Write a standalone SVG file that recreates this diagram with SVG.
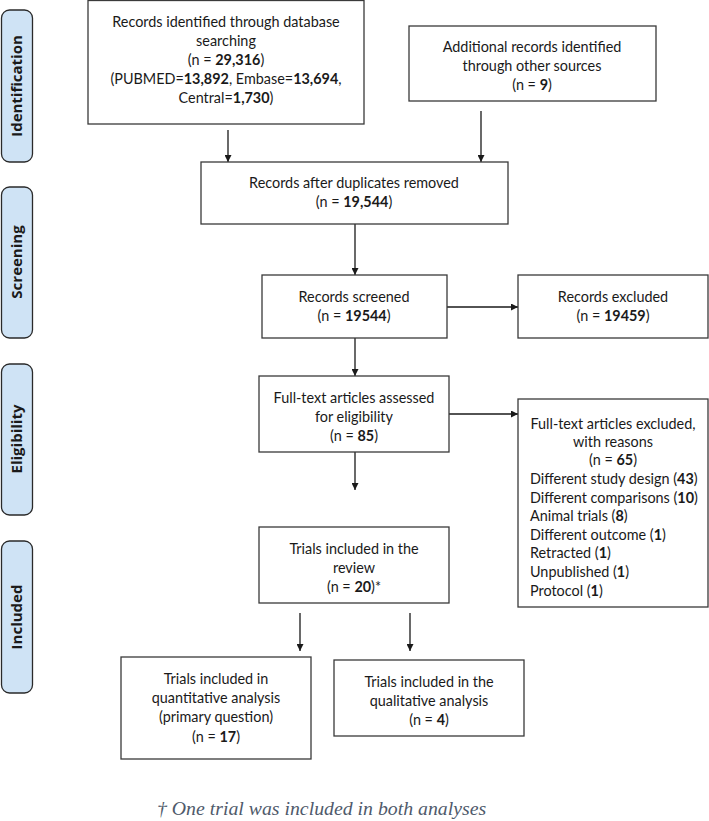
<svg xmlns="http://www.w3.org/2000/svg" width="709" height="821" viewBox="0 0 709 821">
<style>
.box{fill:#fff;stroke:#3a3a3a;stroke-width:1.3}
.side{fill:#cfe3f5;stroke:#2a2a2a;stroke-width:1.3}
.t{font-family:Lato,"Liberation Sans",sans-serif;font-size:14.4px;fill:#1a1a1a}
.c{text-anchor:middle}
.s{font-family:"Open Sans","Liberation Sans",sans-serif;font-size:15px;font-weight:bold;fill:#1a1a1a;text-anchor:middle}
.b{font-weight:bold}
.e{stroke:#1a1a1a;stroke-width:1.3;fill:none;marker-end:url(#ah)}
.fn{font-family:"Liberation Serif",serif;font-style:italic;font-size:19.8px;fill:#4f5a6b}
</style>
<defs>
<marker id="ah" viewBox="0 0 10 10" refX="10" refY="5" markerWidth="7" markerHeight="7" markerUnits="userSpaceOnUse" orient="auto">
<path d="M0,0 L10,5 L0,10 z" fill="#1a1a1a"/>
</marker>
</defs>
<g id="side-identification"><rect class="side" x="1.5" y="10" width="31" height="152" rx="8"/><text class="s" transform="translate(22,86) rotate(-90)">Identification</text></g>
<g id="side-screening"><rect class="side" x="1.5" y="187" width="31" height="151" rx="8"/><text class="s" transform="translate(22,262) rotate(-90)">Screening</text></g>
<g id="side-eligibility"><rect class="side" x="1.5" y="364" width="31" height="151" rx="8"/><text class="s" transform="translate(22,439) rotate(-90)">Eligibility</text></g>
<g id="side-included"><rect class="side" x="1.5" y="541" width="31" height="152" rx="8"/><text class="s" transform="translate(22,617) rotate(-90)">Included</text></g>
<g id="connectors">
<line class="e" x1="228" y1="130" x2="228" y2="162"/>
<line class="e" x1="481" y1="111" x2="481" y2="162"/>
<line class="e" x1="355" y1="224" x2="355" y2="275"/>
<line class="e" x1="447" y1="307" x2="518" y2="307"/>
<line class="e" x1="355" y1="338" x2="355" y2="376"/>
<line class="e" x1="449" y1="414" x2="518" y2="414"/>
<line class="e" x1="355" y1="452" x2="355" y2="490"/>
<line class="e" x1="300" y1="613" x2="300" y2="651"/>
<line class="e" x1="410" y1="613" x2="410" y2="651"/>
</g>
<g id="n-db"><rect class="box" x="88" y="0.5" width="276" height="123.5"/>
<text class="t c" x="226" y="27">Records identified through database</text>
<text class="t c" x="226" y="46">searching</text>
<text class="t c" x="226" y="65">(n = <tspan class="b">29,316</tspan>)</text>
<text class="t c" x="226" y="84">(PUBMED=<tspan class="b">13,892</tspan>, Embase=<tspan class="b">13,694</tspan>,</text>
<text class="t c" x="226" y="103">Central=<tspan class="b">1,730</tspan>)</text></g>
<g id="n-other"><rect class="box" x="409" y="26" width="247" height="75"/>
<text class="t c" x="532" y="52">Additional records identified</text>
<text class="t c" x="532" y="71">through other sources</text>
<text class="t c" x="532" y="90">(n = <tspan class="b">9</tspan>)</text></g>
<g id="n-dups"><rect class="box" x="201" y="162" width="307" height="62"/>
<text class="t c" x="354" y="188">Records after duplicates removed</text>
<text class="t c" x="354" y="207">(n = <tspan class="b">19,544</tspan>)</text></g>
<g id="n-screened"><rect class="box" x="262" y="275" width="185" height="63"/>
<text class="t c" x="354" y="302">Records screened</text>
<text class="t c" x="354" y="321">(n = <tspan class="b">19544</tspan>)</text></g>
<g id="n-excluded"><rect class="box" x="518" y="275" width="190" height="63"/>
<text class="t c" x="613" y="302">Records excluded</text>
<text class="t c" x="613" y="321">(n = <tspan class="b">19459</tspan>)</text></g>
<g id="n-fulltext"><rect class="box" x="259" y="376" width="190" height="76"/>
<text class="t c" x="354" y="403">Full-text articles assessed</text>
<text class="t c" x="354" y="422">for eligibility</text>
<text class="t c" x="354" y="441">(n = <tspan class="b">85</tspan>)</text></g>
<g id="n-ftexcl"><rect class="box" x="518" y="399" width="190" height="208"/>
<text class="t c" x="613" y="429">Full-text articles excluded,</text>
<text class="t c" x="613" y="447">with reasons</text>
<text class="t c" x="613" y="465">(n = <tspan class="b">65</tspan>)</text>
<text class="t" x="530" y="484">Different study design (<tspan class="b">43</tspan>)</text>
<text class="t" x="530" y="503">Different comparisons (<tspan class="b">10</tspan>)</text>
<text class="t" x="530" y="521">Animal trials (<tspan class="b">8</tspan>)</text>
<text class="t" x="530" y="540">Different outcome (<tspan class="b">1</tspan>)</text>
<text class="t" x="530" y="558">Retracted (<tspan class="b">1</tspan>)</text>
<text class="t" x="530" y="577">Unpublished (<tspan class="b">1</tspan>)</text>
<text class="t" x="530" y="596">Protocol (<tspan class="b">1</tspan>)</text></g>
<g id="n-review"><rect class="box" x="259" y="527" width="190" height="76"/>
<text class="t c" x="354" y="554">Trials included in the</text>
<text class="t c" x="354" y="573">review</text>
<text class="t c" x="354" y="592">(n = <tspan class="b">20</tspan>)*</text></g>
<g id="n-quant"><rect class="box" x="121" y="657" width="190" height="102"/>
<text class="t c" x="216" y="684">Trials included in</text>
<text class="t c" x="216" y="703">quantitative analysis</text>
<text class="t c" x="216" y="722">(primary question)</text>
<text class="t c" x="216" y="742">(n = <tspan class="b">17</tspan>)</text></g>
<g id="n-qual"><rect class="box" x="334" y="660" width="190" height="76"/>
<text class="t c" x="429" y="687">Trials included in the</text>
<text class="t c" x="429" y="706">qualitative analysis</text>
<text class="t c" x="429" y="725">(n = <tspan class="b">4</tspan>)</text></g>
<text class="fn" x="157" y="815">† One trial was included in both analyses</text>
</svg>
